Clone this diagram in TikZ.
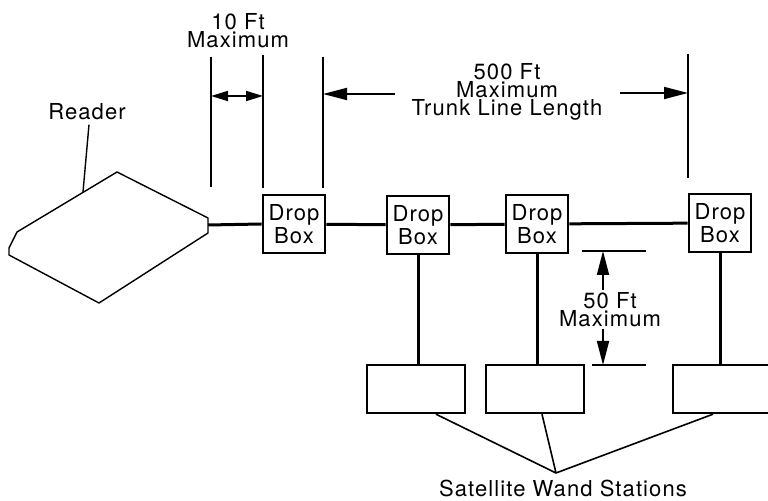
\documentclass[tikz,border=0pt]{standalone}
\usepackage{fontspec}
\setmainfont{TeX Gyre Heros}[LetterSpace=5]
\usetikzlibrary{positioning,arrows.meta,calc}
\tikzset{
  dropbox/.style={draw, line width=1.3pt, minimum width=31pt, minimum height=29pt, inner sep=0pt, align=center, font=\fontsize{11}{9}\selectfont},
  wandbox/.style={draw, line width=1.2pt, minimum width=49pt, minimum height=24pt, inner sep=0pt},
  label/.style={align=center, inner sep=0pt, font=\fontsize{11}{9}\selectfont},
  trunk/.style={line width=1.5pt},
  dimline/.style={line width=0.9pt},
  dimarrow/.style={line width=0.9pt, -{Triangle[length=12pt,width=6pt]}}
}
\begin{document}
\begin{tikzpicture}[x=0.5pt, y=-0.5pt]
\useasboundingbox (0,0) rectangle (768,501);
% reader
\draw[line width=0.7pt, line join=round] (117,172) -- (208,218) -- (208,233) -- (99,303) -- (9,255) -- (9,248) -- (17,232) -- cycle;
\coordinate (rdport) at (208,225);
\coordinate (rdtop) at (83,192);
\node[label] (rdlabel) at (87,112) {Reader};
\draw[line width=0.7pt] (rdlabel.south) ++(2,4) -- (rdtop);
% drop boxes on the trunk line
\node[dropbox] (db1) at (294,224) {Drop\\Box};
\node[dropbox] (db2) at (418,225) {Drop\\Box};
\node[dropbox] (db3) at (537,224) {Drop\\Box};
\node[dropbox] (db4) at (720,223) {Drop\\Box};
\draw[trunk] (rdport) -- (db1.west);
\draw[trunk] (db1) -- (db2);
\draw[trunk] (db2) -- (db3);
\draw[trunk] (db3) -- (db4);
% satellite wand stations
\node[wandbox] (ws1) at (416,389) {};
\node[wandbox] (ws2) at (535,389) {};
\node[wandbox] (ws3) at (722,389) {};
\draw[trunk] (db2.south) -- (db2.south |- ws1.north);
\draw[trunk] (db3.south) -- (db3.south |- ws2.north);
\draw[trunk] (db4.south) -- (db4.south |- ws3.north);
\coordinate (wsmeet) at (556,473);
\node[label, anchor=north] (wslabel) at (563,480) {Satellite Wand Stations};
\draw[line width=0.8pt] ($(ws1.south)+(20,0)$) -- (wsmeet);
\draw[line width=0.8pt] ($(ws2.south)+(7,0)$) -- (wsmeet);
\draw[line width=0.8pt] ($(ws3.south)+(-9,0)$) -- (wsmeet);
% 10 ft dimension
\coordinate (dA1) at (211,57); \coordinate (dA2) at (211,187);
\coordinate (dB1) at (263,55); \coordinate (dB2) at (263,188);
\draw[dimline] (dA1) -- (dA2);
\draw[dimline] (dB1) -- (dB2);
\node[label] (t10) at (238,31) {10 Ft\\Maximum};
\draw[line width=0.9pt, {Triangle[length=8.5pt,width=5pt]}-{Triangle[length=8.5pt,width=5pt]}] (211,96) coordinate (a10l) -- (263,96) coordinate (a10r);
% 500 ft dimension
\coordinate (dC1) at (323,57); \coordinate (dC2) at (323,188);
\coordinate (dD1) at (688,54); \coordinate (dD2) at (688,178);
\draw[dimline] (dC1) -- (dC2);
\draw[dimline] (dD1) -- (dD2);
\node[label] (t500) at (507,92) {500 Ft\\Maximum\\Trunk Line Length};
\draw[dimarrow] (395,94) -- (dC1 |- 0,94);
\draw[dimarrow] (620,93) -- (dD1 |- 0,93);
% 50 ft dimension
\coordinate (dE1) at (582,251); \coordinate (dE2) at (646,251);
\coordinate (dF1) at (592,365); \coordinate (dF2) at (646,365);
\draw[dimline] (dE1) -- (dE2);
\draw[dimline] (dF1) -- (dF2);
\node[label] (t50) at (610,310) {50 Ft\\Maximum};
\draw[dimarrow] (603,290) -- (603,251);
\draw[dimarrow] (603,329) -- (603,365);
\end{tikzpicture}
\end{document}
